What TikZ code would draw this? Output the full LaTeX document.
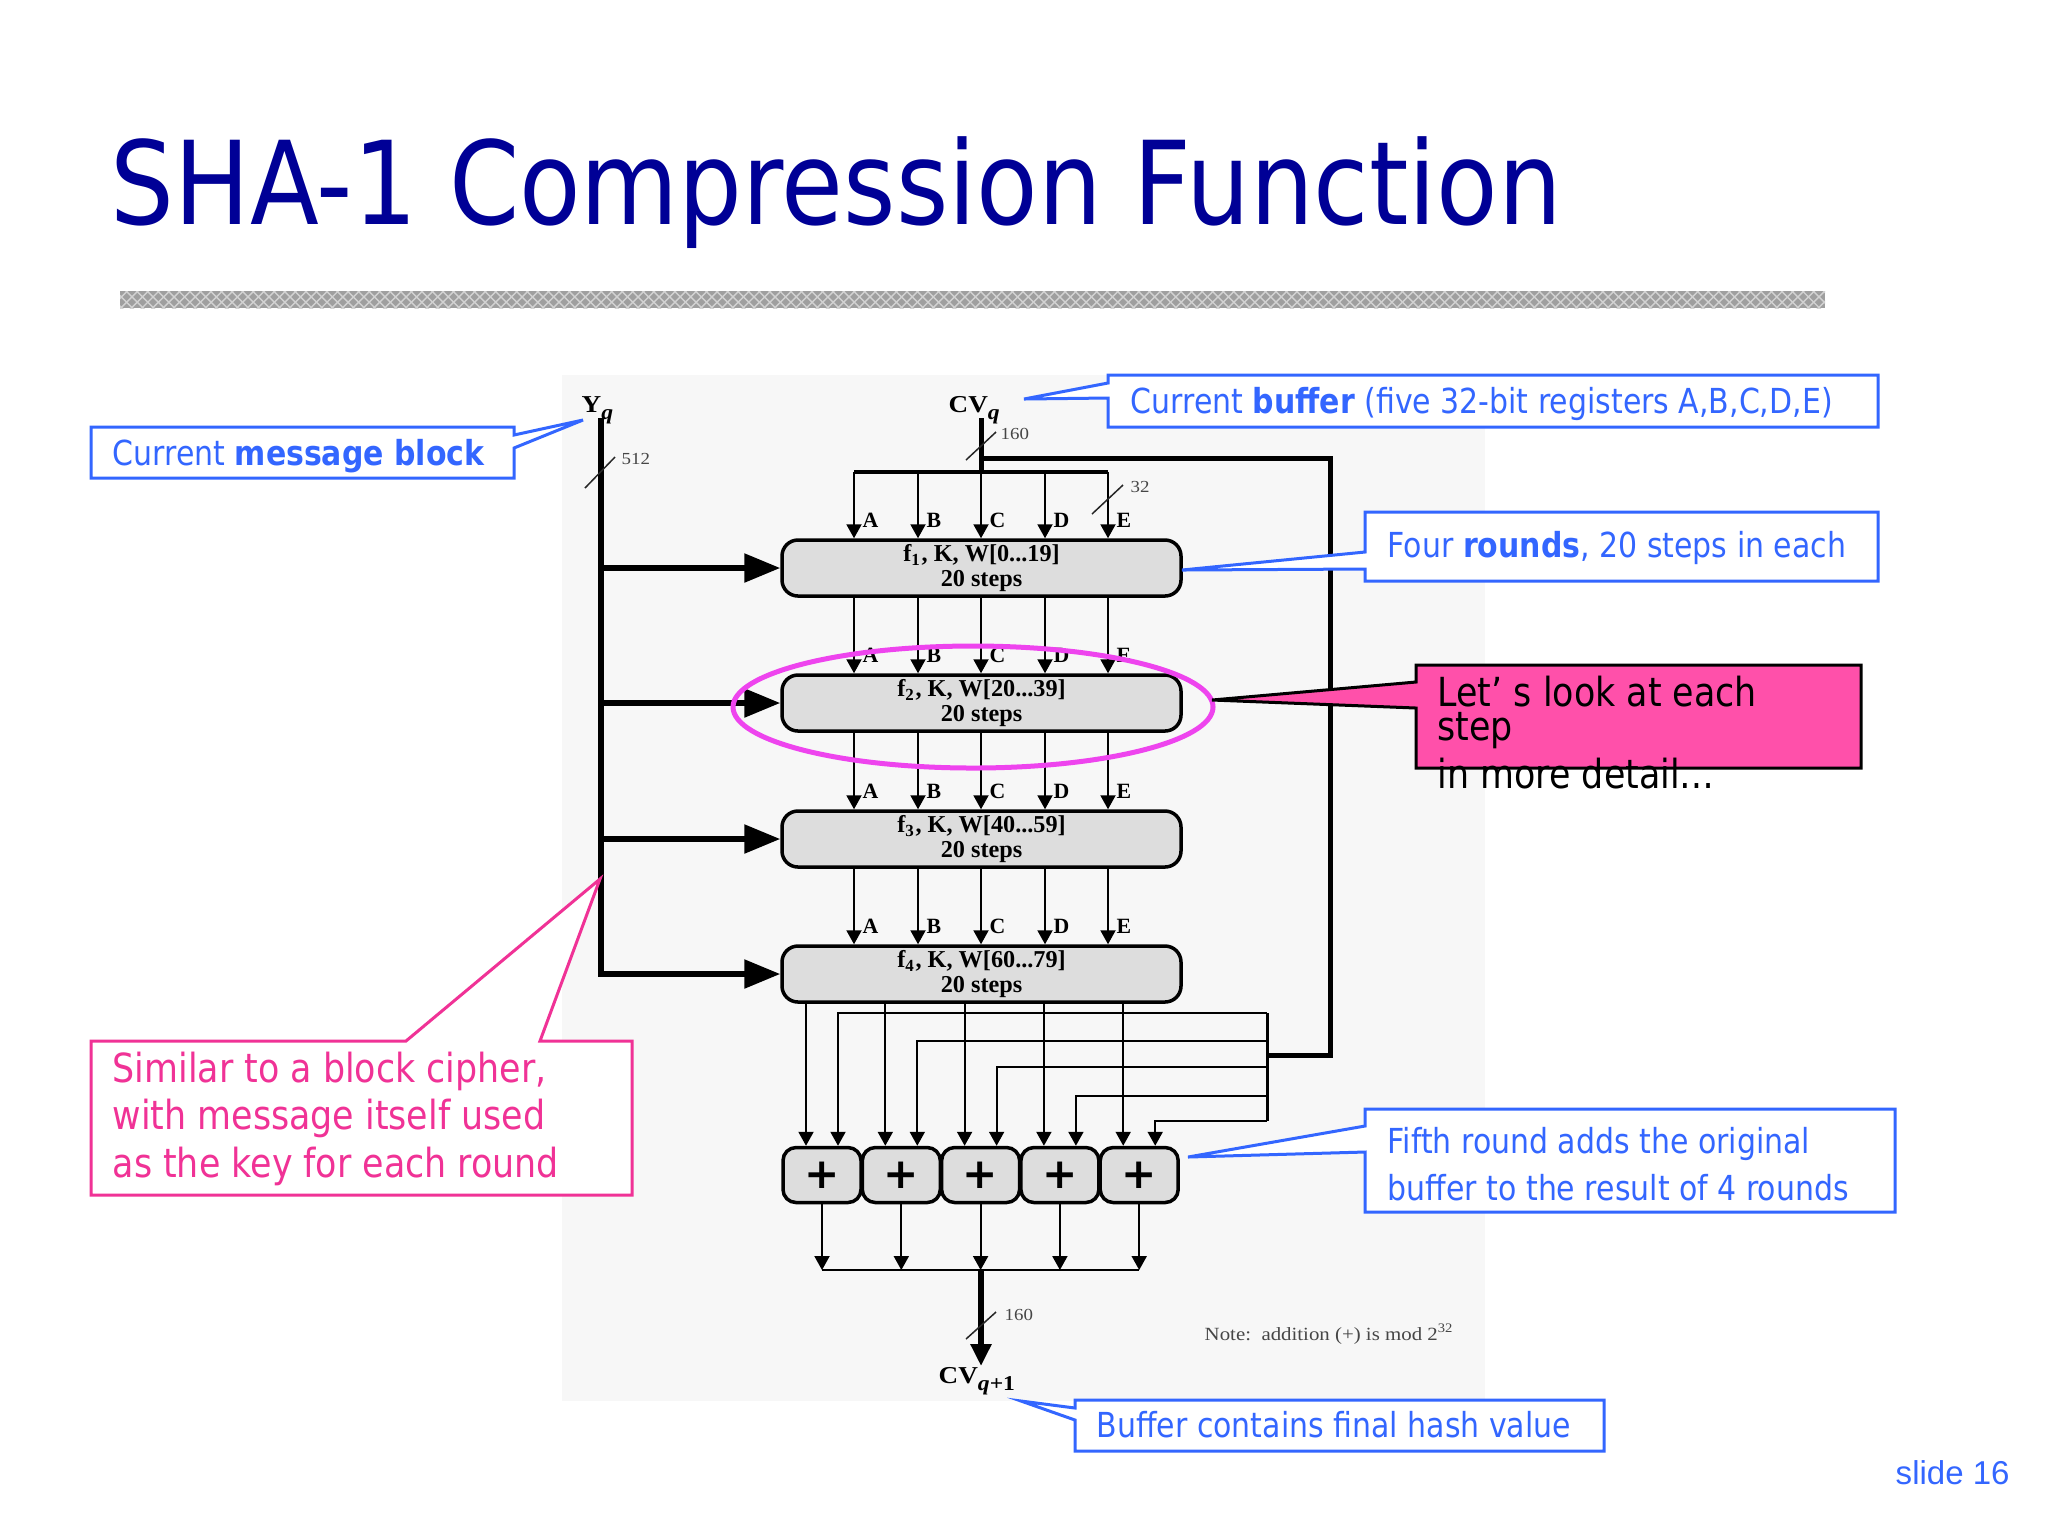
\documentclass[tikz,border=0pt]{standalone}
\usepackage{fontspec}
\setmainfont{Liberation Serif}
\newfontfamily\tah{DejaVu Sans}[FakeStretch=0.87]
\newfontfamily\figf{Liberation Serif}
\newfontfamily\figw{Liberation Serif}[FakeStretch=1.12]
\newfontfamily\arialf{Liberation Sans}
\newfontfamily\plusf{DejaVu Sans}
\usetikzlibrary{arrows.meta,patterns,calc}
\definecolor{titleblue}{RGB}{0,0,150}
\definecolor{cblue}{RGB}{51,102,255}
\definecolor{cpink}{RGB}{240,50,150}
\definecolor{hotpink}{RGB}{255,80,170}
\definecolor{ellmag}{RGB}{238,68,238}
\definecolor{bggray}{RGB}{247,247,247}
\definecolor{boxgray}{RGB}{221,221,221}
\definecolor{notegray}{RGB}{70,70,70}
\newcommand\subq[1]{\raisebox{-0.3em}{\fontsize{6}{6}\selectfont\itshape #1}}
\begin{document}
\begin{tikzpicture}[x=0.1mm,y=-0.1mm,
  roundbox/.style={draw=black, line width=0.35mm, fill=boxgray, rounded corners=1.6mm,
    minimum width=39.9mm, minimum height=5.6mm, inner sep=0, align=center,
    font=\figf\bfseries\fontsize{6.9}{7.1}\selectfont},
  addbox/.style={draw=black, line width=0.35mm, fill=boxgray, rounded corners=1.3mm,
    minimum width=7.8mm, minimum height=5.5mm, inner sep=0,
    font=\plusf\bfseries\fontsize{12}{12}\selectfont},
  thinarr/.style={line width=0.2mm, -{Triangle[width=1.5mm,length=1.4mm]}},
  bigarr/.style={line width=0.55mm, -{Triangle[width=2.8mm,length=3.6mm]}},
  thickln/.style={line width=0.5mm},
  lett/.style={anchor=base west, inner sep=0, font=\figf\bfseries\fontsize{6.2}{6.2}\selectfont},
  numl/.style={anchor=base west, inner sep=0, font=\figw\fontsize{4.8}{4.8}\selectfont, text=notegray},
  tick/.style={line width=0.15mm, draw=black!85},
  varlbl/.style={anchor=base west, inner sep=0, font=\figw\bfseries\fontsize{6.9}{6.9}\selectfont},
  bluecall/.style={draw=cblue, line width=0.3mm, fill=white},
  bluetxt/.style={anchor=base west, inner sep=0, text=cblue, font=\tah\fontsize{9.8}{13.4}\selectfont},
  pinktxt/.style={anchor=base west, inner sep=0, text=cpink, font=\tah\fontsize{11.4}{13.5}\selectfont},
  blacktxt/.style={anchor=base west, inner sep=0, text=black, font=\tah\fontsize{11.4}{9.4}\selectfont}
]
\useasboundingbox (0,0) rectangle (2048,1536);
\fill[white] (0,0) rectangle (2048,1536);

% title and bar
\node[anchor=base west, inner sep=0, text=titleblue, font=\tah\fontsize{32.9}{36}\selectfont] (title) at (110,224) {SHA-1 Compression Function};
\fill[gray!75] (120,291) rectangle (1825,308);
\fill[pattern=crosshatch, pattern color=gray!35] (120,291) rectangle (1825,308);

% diagram background
\fill[bggray] (562,375) rectangle (1485,1401);

% coordinates
\coordinate (yqtop) at (601,418);
\coordinate (cvtop) at (981,418);
\coordinate (busL) at (854,472);
\coordinate (busR) at (1108,472);
\coordinate (busC) at (981,472);
\coordinate (brJ) at (981,458);
\coordinate (brR) at (1330,458);
\coordinate (brB) at (1330,1055);
\coordinate (colM) at (1267,1055);
\coordinate (colT) at (1267,1013);
\coordinate (colB) at (1267,1121);
\coordinate (outbar) at (981,1270);
\coordinate (cvout) at (981,1366);
\foreach \n/\x in {A/854,B/918,C/981,D/1045,E/1108} \coordinate (c\n) at (\x,0);

% rounds
\node[roundbox] (R1) at (981.5,568) {f\textsubscript{1}, K, W[0...19]\\20 steps};
\node[roundbox] (R2) at (981.5,703) {f\textsubscript{2}, K, W[20...39]\\20 steps};
\node[roundbox] (R3) at (981.5,839) {f\textsubscript{3}, K, W[40...59]\\20 steps};
\node[roundbox] (R4) at (981.5,974) {f\textsubscript{4}, K, W[60...79]\\20 steps};

% labels Y, CV
\node[varlbl] (yq) at (581,412) {Y\subq{q}};
\node[varlbl] (cvq) at (948,412) {CV\subq{q}};
\node[varlbl] (cvq1) at (938,1383) {CV\subq{q\textup{+1}}};

% message block line
\draw[bigarr] (yqtop) |- (R4.west);
\foreach \r in {R1,R2,R3} \draw[bigarr] (yqtop |- \r.west) -- (\r.west);

% buffer lines
\draw[thickln] (cvtop) -- (busC);
\draw[line width=0.35mm] (busL) -- (busR);
\draw[thickln] (brJ) -- (brR) -- (brB) -- (colM);
\draw[line width=0.3mm] (colT) -- (colB);

% column arrows and labels
\foreach \n in {A,B,C,D,E} {
  \draw[thinarr] (c\n |- busL) -- (c\n |- R1.north);
  \draw[thinarr] (c\n |- R1.south) -- (c\n |- R2.north);
  \draw[thinarr] (c\n |- R2.south) -- (c\n |- R3.north);
  \draw[thinarr] (c\n |- R3.south) -- (c\n |- R4.north);
  \node[lett] (la\n) at ($(c\n |- R1.north)+(8,-11)$) {\n};
  \node[lett] (lb\n) at ($(c\n |- R2.north)+(8,-11)$) {\n};
  \node[lett] (lc\n) at ($(c\n |- R3.north)+(8,-11)$) {\n};
  \node[lett] (ld\n) at ($(c\n |- R4.north)+(8,-11)$) {\n};
}

% width ticks
\draw[tick] (585,488) -- (615,457);
\node[numl] (n512) at (621,464) {512};
\draw[tick] (966,460) -- (996,432);
\node[numl] (n160a) at (1000,439) {160};
\draw[tick] (1092,514) -- (1123,485);
\node[numl] (n32) at (1130,492) {32};

% adders
\foreach \i/\x in {1/822,2/901.3,3/980.6,4/1059.9,5/1139.2} {
  \node[addbox] (P\i) at (\x,1175) {+};
  \coordinate (ina\i) at ($(P\i.north)+(-16,0)$);
  \coordinate (inb\i) at ($(P\i.north)+(16,0)$);
}
\foreach \i/\lev in {1/1013,2/1041,3/1067,4/1096,5/1121} {
  \coordinate (lv\i) at (1267,\lev);
  \draw[thinarr] (ina\i |- R4.south) -- (ina\i);
  \draw[thinarr] (lv\i) -| (inb\i);
  \draw[thinarr] (P\i.south) -- (P\i.south |- outbar);
}
\draw[line width=0.2mm] (P1.south |- outbar) -- (P5.south |- outbar);
\draw[line width=0.55mm, -{Triangle[width=2mm,length=2.2mm]}] (outbar) -- (cvout);
\draw[tick] (966,1339) -- (996,1312);
\node[numl] (n160b) at (1004,1320) {160};
\node[anchor=base west, inner sep=0, text=notegray, font=\figw\fontsize{5.3}{5.3}\selectfont] (note) at (1204,1340) {Note:\ \ addition (+) is mod 2\textsuperscript{32}};

% highlight ellipse
\draw[ellmag, line width=0.5mm] (973,707) ellipse [x radius=24mm, y radius=6.1mm];

% callouts
\draw[bluecall] (91,427) -- (514,427) -- (514,435) -- (583,420) -- (514,448) -- (514,478) -- (91,478) -- cycle;
\node[bluetxt] (t1) at (112,465) {Current \textbf{message block}};

\draw[bluecall] (1108,375) -- (1878,375) -- (1878,427) -- (1108,427) -- (1108,398) -- (1024,399) -- (1108,383) -- cycle;
\node[bluetxt] (t2) at (1130,413) {Current \textbf{buffer} (five 32-bit registers A,B,C,D,E)};

\draw[bluecall] (1365,512) -- (1878,512) -- (1878,581) -- (1365,581) -- (1365,569) -- (1182,570) -- (1365,552) -- cycle;
\node[bluetxt] (t3) at (1387,557) {Four \textbf{rounds}, 20 steps in each};

\draw[fill=hotpink, draw=black, line width=0.3mm] (1416,665) -- (1861,665) -- (1861,768) -- (1416,768) -- (1416,708) -- (1212,700) -- (1416,682) -- cycle;
\node[blacktxt, align=left] (t4a) at (1437,740) {Let’ s look at each\\step};
\node[blacktxt] (t4c) at (1437,788) {in more detail…};

\draw[draw=cpink, line width=0.3mm, fill=white] (91,1041) -- (406,1041) -- (600,879) -- (540,1041) -- (632,1041) -- (632,1195) -- (91,1195) -- cycle;
\node[pinktxt] (t5a) at (112,1082) {Similar to a block cipher,};
\node[pinktxt] (t5b) at (112,1129) {with message itself used};
\node[pinktxt] (t5c) at (112,1177) {as the key for each round};

\draw[bluecall] (1365,1109) -- (1895,1109) -- (1895,1212) -- (1365,1212) -- (1365,1152) -- (1188,1157) -- (1365,1126) -- cycle;
\node[bluetxt] (t6a) at (1387,1153) {Fifth round adds the original};
\node[bluetxt] (t6b) at (1387,1200) {buffer to the result of 4 rounds};

\draw[bluecall] (1075,1400) -- (1604,1400) -- (1604,1451) -- (1075,1451) -- (1075,1420) -- (1021,1401) -- (1075,1408) -- cycle;
\node[bluetxt] (t7) at (1096,1437) {Buffer contains final hash value};

\node[anchor=base west, inner sep=0, text=cblue, font=\arialf\fontsize{9.4}{10}\selectfont] (slide) at (1895,1484) {slide 16};
\end{tikzpicture}
\end{document}
